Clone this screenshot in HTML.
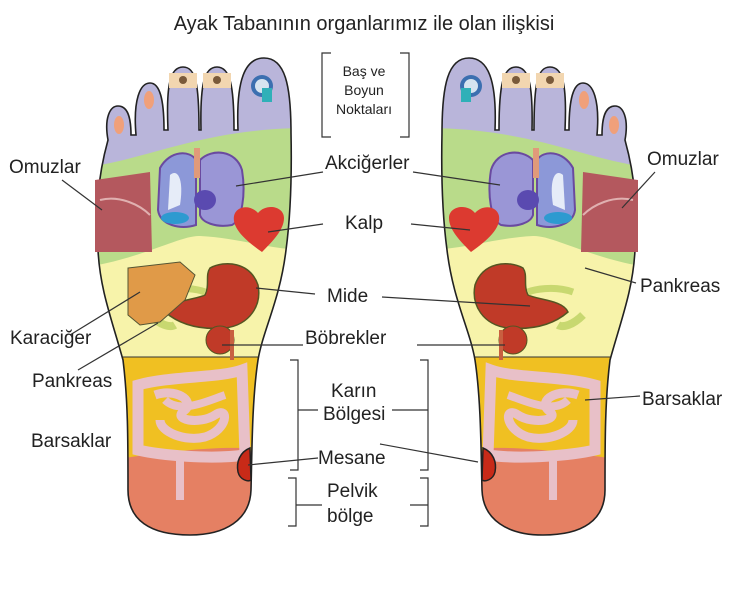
<!DOCTYPE html>
<html><head><meta charset="utf-8"><style>
html,body{margin:0;padding:0;background:#fff;}
svg{display:block;}
text{font-family:"Liberation Sans",sans-serif;fill:#222;}
</style></head><body>
<svg width="738" height="600" viewBox="0 0 738 600" xmlns="http://www.w3.org/2000/svg">
<defs>
<clipPath id="fc">
<path d="M108,140 C104,118 110,106 118,106 C128,106 131,118 131,135 L136,135 C133,100 140,83 150,83 C160,83 164,100 164,130 L168,130 C166,85 170,67 183,67 C196,67 199,85 199,130 L201,130 C200,85 204,67 217,67 C230,67 234,85 234,130 L238,130 C236,80 245,58 264,58 C285,58 291,85 291,133 C292,180 290,220 286,250 C280,300 263,330 258,360 C252,400 252,450 251,490 C250,520 225,535 190,535 C150,535 128,520 128,490 C128,440 128,400 123,360 C112,320 100,290 98,250 C96,210 97,180 108,140 Z"/>
</clipPath>
<g id="foot">
<g clip-path="url(#fc)">
<rect x="80" y="40" width="230" height="520" fill="#b9b5da"/>
<path d="M80,168 C150,160 200,128 310,128 L310,560 L80,560 Z" fill="#b9db8a"/>
<path d="M80,268 C140,260 180,235 200,236 C240,238 270,250 310,250 L310,560 L80,560 Z" fill="#f7f3aa"/>
<rect x="80" y="357" width="230" height="210" fill="#f0c022"/>
<path d="M80,465 C140,455 200,447 240,448 C255,450 265,462 310,470 L310,560 L80,560 Z" fill="#e58063"/>
<line x1="80" y1="357" x2="310" y2="357" stroke="#333" stroke-width="1"/>
</g>
<path d="M108,140 C104,118 110,106 118,106 C128,106 131,118 131,135 L136,135 C133,100 140,83 150,83 C160,83 164,100 164,130 L168,130 C166,85 170,67 183,67 C196,67 199,85 199,130 L201,130 C200,85 204,67 217,67 C230,67 234,85 234,130 L238,130 C236,80 245,58 264,58 C285,58 291,85 291,133 C292,180 290,220 286,250 C280,300 263,330 258,360 C252,400 252,450 251,490 C250,520 225,535 190,535 C150,535 128,520 128,490 C128,440 128,400 123,360 C112,320 100,290 98,250 C96,210 97,180 108,140 Z" fill="none" stroke="#222" stroke-width="1.6"/>
<ellipse cx="119" cy="125" rx="5" ry="9" fill="#f0a07a"/>
<ellipse cx="149" cy="100" rx="5" ry="9" fill="#f0a07a"/>
<rect x="169" y="73" width="28" height="15" fill="#f2d6b0"/><circle cx="183" cy="80" r="4" fill="#7a5a3a"/>
<rect x="203" y="73" width="28" height="15" fill="#f2d6b0"/><circle cx="217" cy="80" r="4" fill="#7a5a3a"/>
<circle cx="262" cy="86" r="11" fill="#3b6fb0"/><circle cx="262" cy="86" r="7" fill="#d6e4f0"/><rect x="262" y="88" width="10" height="14" fill="#2fb0b8"/>
<path d="M95,180 L150,172 L152,252 L95,252 Z" fill="#b4585e"/>
<path d="M100,200 C120,195 140,205 150,215" stroke="#e0b0b0" stroke-width="2" fill="none"/>
<path d="M160,168 C170,150 190,150 196,160 L196,225 C180,230 160,225 158,210 Z" fill="#8c98d8" stroke="#6a4aa0" stroke-width="2"/>
<path d="M200,160 C212,148 236,150 242,170 C246,195 242,220 232,225 C215,228 202,222 200,215 Z" fill="#9a96d6" stroke="#6a4aa0" stroke-width="2"/>
<path d="M170,175 C178,168 184,180 180,205 L168,210 Z" fill="#e6ecf8"/>
<ellipse cx="175" cy="218" rx="14" ry="6" fill="#2d9ad0"/>
<rect x="194" y="148" width="6" height="30" fill="#e09a7a"/>
<ellipse cx="205" cy="200" rx="11" ry="10" fill="#5a4ab0"/>
<path d="M262,252 C245,240 232,228 234,216 C236,206 250,204 258,213 C266,203 284,206 284,218 C284,230 272,242 262,252 Z" fill="#dc3a30"/>
<path d="M210,268 C225,260 250,262 258,285 C262,305 250,325 225,328 C200,330 180,325 165,312 C170,300 195,300 205,295 C210,285 205,275 210,268 Z" fill="#c03a28" stroke="#552" stroke-width="1.5"/>
<ellipse cx="220" cy="340" rx="14" ry="14" fill="#c03a28" stroke="#552" stroke-width="1"/>
<path d="M160,292 C180,285 200,290 205,292" stroke="#c8d870" stroke-width="7" fill="none"/>
<path d="M150,315 C160,325 170,328 175,325" stroke="#c8d870" stroke-width="8" fill="none"/>
<rect x="230" y="330" width="4" height="30" fill="#c86040"/>
<path d="M138,385 C170,376 220,378 242,370 L245,455 C210,460 160,455 138,450 Z" fill="none" stroke="#e8c0c8" stroke-width="11"/>
<path d="M155,395 C175,388 195,400 185,410 C170,420 200,425 215,415 C230,405 228,430 205,437 C185,442 160,432 160,420" fill="none" stroke="#e8c0c8" stroke-width="9"/>
<path d="M165,400 C180,415 210,400 225,395" fill="none" stroke="#e8c0c8" stroke-width="8"/>
<path d="M180,455 L180,500" stroke="#e8c0c8" stroke-width="8"/>
<path d="M250,448 C240,452 236,462 238,472 C240,480 248,482 251,480 Z" fill="#c82a18" stroke="#222" stroke-width="1.5"/>
</g>
</defs>

<text x="364" y="30" font-size="20" text-anchor="middle">Ayak Tabanının organlarımız ile olan ilişkisi</text>

<use href="#foot"/>
<path d="M128,268 L180,262 L195,275 L185,300 L160,322 L140,325 L128,315 Z" fill="#e09a48" stroke="#553" stroke-width="1"/>
<g transform="translate(733,0) scale(-1,1)"><use href="#foot"/></g>

<g font-size="14" text-anchor="middle">
<text x="364" y="76">Baş ve</text><text x="364" y="95">Boyun</text><text x="364" y="114">Noktaları</text>
</g>
<g stroke="#333" stroke-width="1.2" fill="none">
<path d="M331,53 L322,53 L322,137 L331,137"/>
<path d="M400,53 L409,53 L409,137 L400,137"/>
<path d="M290,360 L298,360 L298,470 L290,470 M298,410 L318,410"/>
<path d="M420,360 L428,360 L428,470 L420,470 M428,410 L392,410"/>
<path d="M288,478 L296,478 L296,526 L288,526 M296,505 L322,505"/>
<path d="M420,478 L428,478 L428,526 L420,526 M428,505 L410,505"/>
<path d="M62,180 L102,210"/>
<path d="M323,172 L236,186"/><path d="M413,172 L500,185"/>
<path d="M323,224 L268,232"/><path d="M411,224 L470,230"/>
<path d="M315,294 L256,288"/><path d="M382,297 L530,306"/>
<path d="M303,345 L222,345"/><path d="M417,345 L505,345"/>
<path d="M70,335 L140,292"/><path d="M78,370 L158,323"/>
<path d="M318,458 L248,465"/><path d="M380,444 L478,462"/>
<path d="M640,396 L585,400"/><path d="M636,283 L585,268"/>
<path d="M655,172 L622,208"/>
</g>
<g font-size="19">
<text x="9" y="173">Omuzlar</text>
<text x="647" y="165">Omuzlar</text>
<text x="325" y="169">Akciğerler</text>
<text x="345" y="229">Kalp</text>
<text x="327" y="302">Mide</text>
<text x="305" y="344">Böbrekler</text>
<text x="331" y="397">Karın</text>
<text x="323" y="420">Bölgesi</text>
<text x="318" y="464">Mesane</text>
<text x="327" y="497">Pelvik</text>
<text x="327" y="522">bölge</text>
<text x="10" y="344">Karaciğer</text>
<text x="32" y="387">Pankreas</text>
<text x="31" y="447">Barsaklar</text>
<text x="640" y="292">Pankreas</text>
<text x="642" y="405">Barsaklar</text>
</g>
</svg>
</body></html>
